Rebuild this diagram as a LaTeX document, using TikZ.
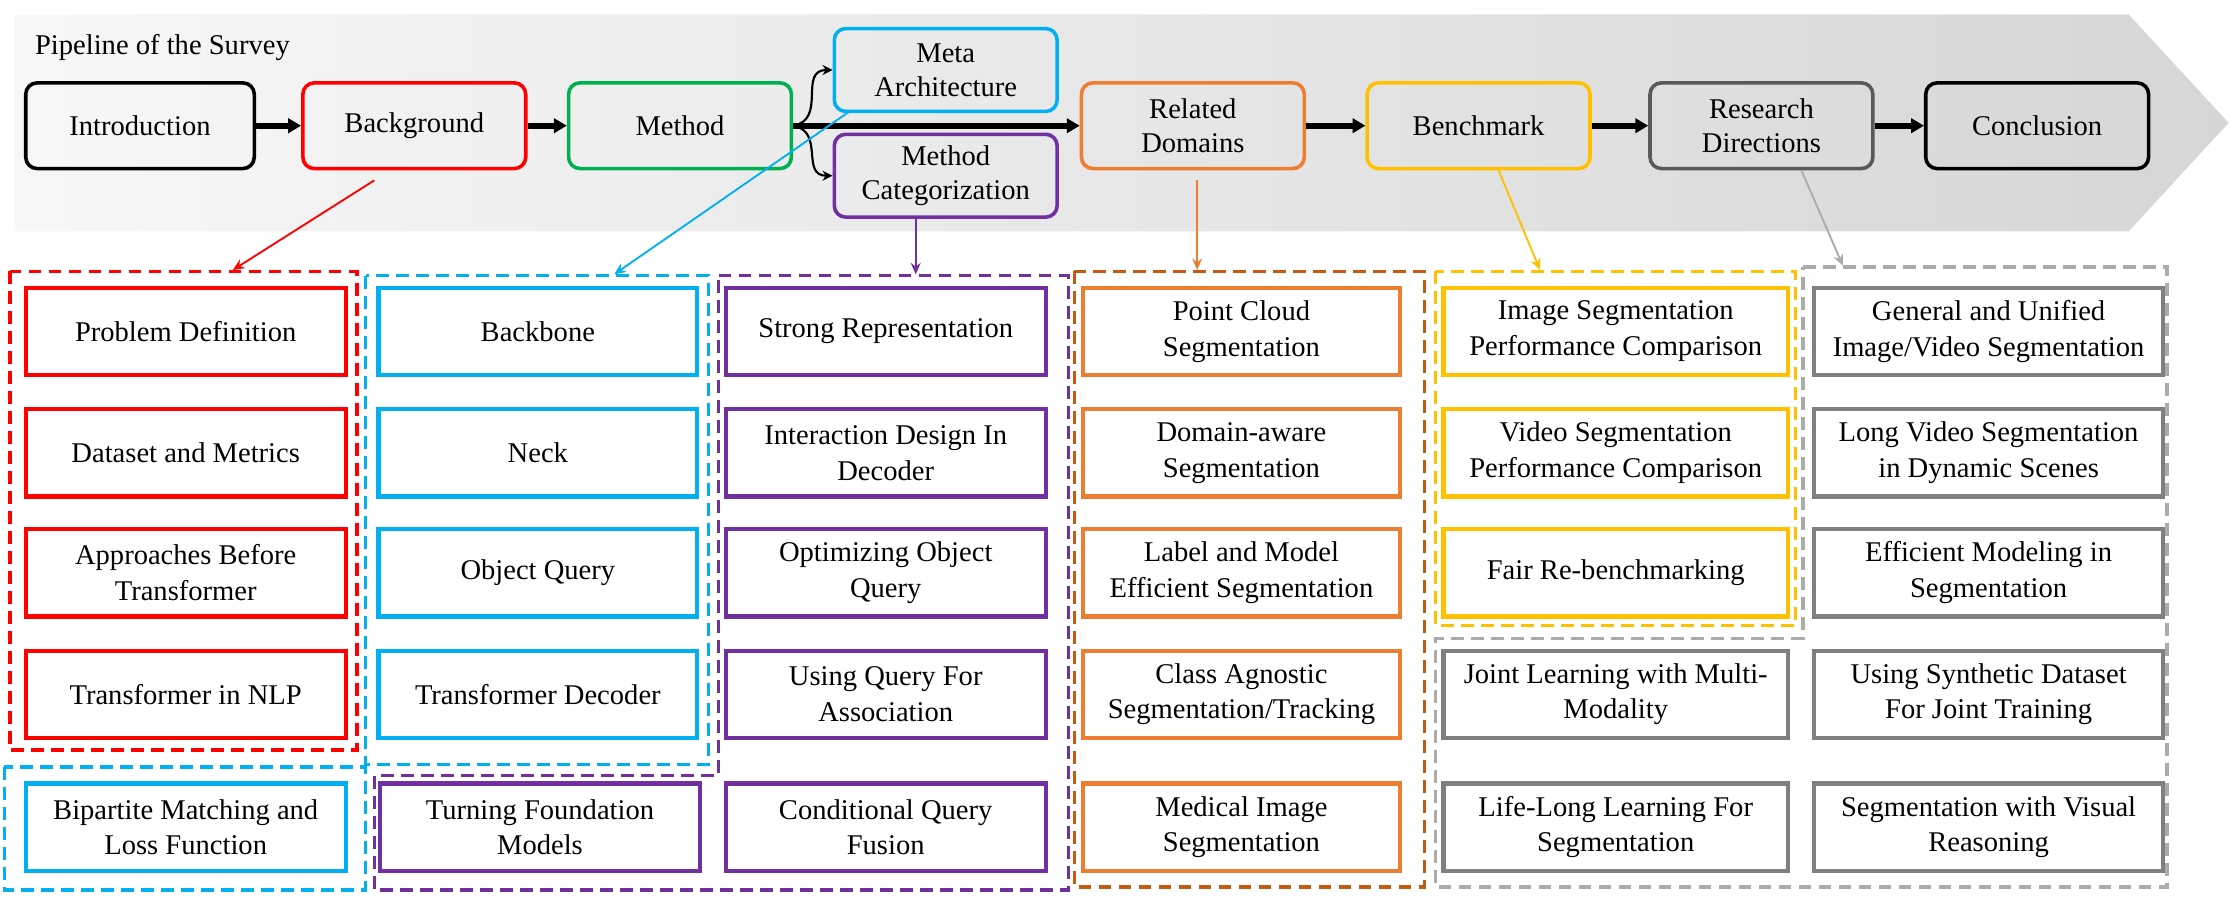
\documentclass[tikz,border=0pt]{standalone}
\usepackage{fontspec}
\setmainfont{LiberationSerif}[Extension=.ttf,UprightFont=*-Regular,BoldFont=*-Bold,ItalicFont=*-Italic,BoldItalicFont=*-BoldItalic]
\usetikzlibrary{arrows.meta}

\definecolor{mgreen}{HTML}{00B050}
\definecolor{mcyan}{HTML}{00B0F0}
\definecolor{mpurple}{HTML}{7030A0}
\definecolor{rorange}{HTML}{ED7D31}
\definecolor{rdorange}{HTML}{C55A11}
\definecolor{byellow}{HTML}{FFC000}
\definecolor{rgray}{HTML}{595959}
\definecolor{fgray}{HTML}{7F7F7F}
\definecolor{lgray}{HTML}{ABABAB}

\begin{document}
\begin{tikzpicture}[x=1pt,y=-1pt,font=\fontsize{20}{24}\selectfont]

\tikzstyle{stage}=[draw,rounded corners=8pt,line width=2.5pt,minimum width=156pt,minimum height=60pt,align=center,inner sep=2pt]
\tikzstyle{topic}=[draw,line width=3pt,minimum width=224pt,minimum height=61pt,align=center,inner sep=2pt,font=\fontsize{20}{25}\selectfont]
\tikzstyle{group}=[line width=2.4pt,dash pattern=on 9pt off 5pt]
\tikzstyle{flow}=[-{Triangle[length=9pt,width=10pt]},line width=4pt]
\tikzstyle{curvearrow}=[-{Stealth[length=7pt,width=7pt]},line width=1.5pt]
\tikzstyle{link}=[-{Stealth[length=8pt,width=7pt]},line width=1.3pt]

\useasboundingbox (0,0) rectangle (1568,629);

% pipeline banner
\shade[left color=black!3,right color=black!16] (10,10) -- (1490,10) -- (1560,86) -- (1490,162) -- (10,162) -- cycle;
\node[anchor=west] (title) at (21,33) {Pipeline of the Survey};

\node[stage,minimum width=160pt] (intro) at (98,88) {Introduction};
\node[stage,draw=red] (backg) at (290,88) {Background};
\node[stage,draw=mgreen] (method) at (476,88) {Method};
\node[stage,draw=mcyan,minimum height=58pt] (meta) at (662,49) {Meta\\Architecture};
\node[stage,draw=mpurple,minimum height=58pt] (categ) at (662,123) {Method\\Categorization};
\node[stage,draw=rorange] (related) at (835,88) {Related\\Domains};
\node[stage,draw=byellow] (bench) at (1035,88) {Benchmark};
\node[stage,draw=rgray] (research) at (1233,88) {Research\\Directions};
\node[stage] (concl) at (1426,88) {Conclusion};

\draw[flow] (intro) -- (backg);
\draw[flow] (backg) -- (method);
\draw[flow] (method) -- (related);
\draw[flow] (related) -- (bench);
\draw[flow] (bench) -- (research);
\draw[flow] (research) -- (concl);
\draw[curvearrow] (method.east) to[out=10,in=180,looseness=1.3] (meta.west);
\draw[curvearrow] (method.east) to[out=-10,in=180,looseness=1.3] (categ.west);

% dashed groups
\draw[group,red] (7,190) rectangle (250,525);
\draw[group,mcyan] (256,193) rectangle (496,535);
\draw[group,mcyan] (3,537) rectangle (256,623);
\draw[group,mpurple] (503,193) -- (748,193) -- (748,623) -- (262,623) -- (262,543) -- (503,543) -- cycle;
\draw[group,rdorange] (752,190) rectangle (997,621);
\draw[group,byellow] (1005,190) rectangle (1257,438);
\draw[group,lgray] (1262,187) -- (1517,187) -- (1517,621) -- (1005,621) -- (1005,447) -- (1262,447) -- cycle;

% background
\node[topic,draw=red] (probdef) at (130,232) {Problem Definition};
\node[topic,draw=red] (dataset) at (130,317) {Dataset and Metrics};
\node[topic,draw=red] (before) at (130,401) {Approaches Before\\Transformer};
\node[topic,draw=red] (nlp) at (130,486) {Transformer in NLP};
\node[topic,draw=mcyan] (bipart) at (130,579) {Bipartite Matching and\\Loss Function};

% meta architecture
\node[topic,draw=mcyan,minimum width=223pt] (backbone) at (376.5,232) {Backbone};
\node[topic,draw=mcyan,minimum width=223pt] (neck) at (376.5,317) {Neck};
\node[topic,draw=mcyan,minimum width=223pt] (objquery) at (376.5,401) {Object Query};
\node[topic,draw=mcyan,minimum width=223pt] (decoder) at (376.5,486) {Transformer Decoder};
\node[topic,draw=mpurple] (foundation) at (378,579) {Turning Foundation\\Models};

% method categorization
\node[topic,draw=mpurple] (strong) at (620,232) {Strong Representation};
\node[topic,draw=mpurple] (interact) at (620,317) {Interaction Design In\\Decoder};
\node[topic,draw=mpurple] (optim) at (620,401) {Optimizing Object\\Query};
\node[topic,draw=mpurple] (assoc) at (620,486) {Using Query For\\Association};
\node[topic,draw=mpurple] (fusion) at (620,579) {Conditional Query\\Fusion};

% related domains
\node[topic,draw=rorange,minimum width=222pt] (pointcloud) at (869,232) {Point Cloud\\Segmentation};
\node[topic,draw=rorange,minimum width=222pt] (domain) at (869,317) {Domain-aware\\Segmentation};
\node[topic,draw=rorange,minimum width=222pt] (efficient) at (869,401) {Label and Model\\Efficient Segmentation};
\node[topic,draw=rorange,minimum width=222pt] (agnostic) at (869,486) {Class Agnostic\\Segmentation/Tracking};
\node[topic,draw=rorange,minimum width=222pt] (medical) at (869,579) {Medical Image\\Segmentation};

% benchmark
\node[topic,draw=byellow,minimum width=241pt] (imgperf) at (1131,232) {Image Segmentation\\Performance Comparison};
\node[topic,draw=byellow,minimum width=241pt] (vidperf) at (1131,317) {Video Segmentation\\Performance Comparison};
\node[topic,draw=byellow,minimum width=241pt] (rebench) at (1131,401) {Fair Re-benchmarking};

% research directions
\node[topic,draw=fgray,minimum width=241pt] (multimod) at (1131,486) {Joint Learning with Multi-\\Modality};
\node[topic,draw=fgray,minimum width=241pt] (lifelong) at (1131,579) {Life-Long Learning For\\Segmentation};
\node[topic,draw=fgray,minimum width=244pt] (unified) at (1392,232) {General and Unified\\Image/Video Segmentation};
\node[topic,draw=fgray,minimum width=244pt] (longvid) at (1392,317) {Long Video Segmentation\\in Dynamic Scenes};
\node[topic,draw=fgray,minimum width=244pt] (effmodel) at (1392,401) {Efficient Modeling in\\Segmentation};
\node[topic,draw=fgray,minimum width=244pt] (synthetic) at (1392,486) {Using Synthetic Dataset\\For Joint Training};
\node[topic,draw=fgray,minimum width=244pt] (reasoning) at (1392,579) {Segmentation with Visual\\Reasoning};

% links from the pipeline to the groups
\coordinate (redtop) at (163,189);
\coordinate (cyantop) at (430,192);
\coordinate (purpletop) at (641,192);
\coordinate (orangetop) at (838,189);
\coordinate (yellowtop) at (1078,189);
\coordinate (graytop) at (1290,186);
\draw[link,red] ([xshift=-28pt,yshift=-7pt]backg.south) -- (redtop);
\draw[link,mcyan] ([xshift=13pt,yshift=2pt]meta.south west) -- (cyantop);
\draw[link,mpurple] ([xshift=-21pt]categ.south) -- (purpletop);
\draw[link,rorange] ([xshift=3pt,yshift=-7pt]related.south) -- (orangetop);
\draw[link,byellow] ([xshift=14pt]bench.south) -- (yellowtop);
\draw[link,lgray] ([xshift=28pt]research.south) -- (graytop);

\end{tikzpicture}
\end{document}
